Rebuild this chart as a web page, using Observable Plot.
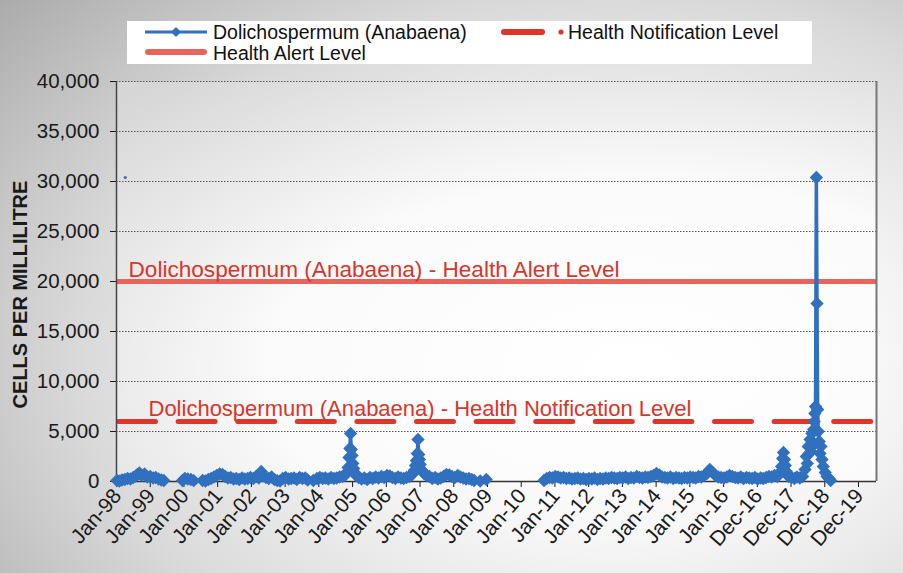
<!DOCTYPE html>
<html><head><meta charset="utf-8">
<script src="https://cdn.jsdelivr.net/npm/d3@7"></script>
<script src="https://cdn.jsdelivr.net/npm/@observablehq/plot@0.6"></script>
<style>
html,body{margin:0;padding:0;background:#fff;}
#wrap{position:relative;width:903px;height:573px;overflow:hidden;
 background: radial-gradient(ellipse 95% 100% at 68% 62%, #ffffff 0%, #f8f8f8 30%, #dadada 62%, #a3a3a3 100%);
 font-family:"Liberation Sans", Arial, sans-serif;}
#legend{position:absolute;left:127px;top:21px;width:685px;height:43px;background:#fff;}
#chart{position:absolute;left:0;top:0;}
</style></head><body>
<div id="wrap"><div id="chart"></div><div id="legend"></div></div>
<script>
// ---------- data ----------
const legendLabels = ["Dolichospermum (Anabaena)", "Health Notification Level", "Health Alert Level"];
const alertLevel = 20000;
const notificationLevel = 6000;
const alertLabel = "Dolichospermum (Anabaena) - Health Alert Level";
const notificationLabel = "Dolichospermum (Anabaena) - Health Notification Level";
const yLabel = "CELLS PER MILLILITRE";
const yTicks = [0, 5000, 10000, 15000, 20000, 25000, 30000, 35000, 40000];
const tickLabels = ["Jan-98","Jan-99","Jan-00","Jan-01","Jan-02","Jan-03","Jan-04","Jan-05","Jan-06","Jan-07","Jan-08","Jan-09","Jan-10","Jan-11","Jan-12","Jan-13","Jan-14","Jan-15","Jan-16","Dec-16","Dec-17","Dec-18","Dec-19"];
const axisStart = "1998-01-05";
const axisEnd = "2020-07-13";
const tickStepDays = 365;

const sampleDates = [
 "1998-01-10","1998-02-05","1998-03-05","1998-04-05","1998-05-05","1998-06-05","1998-07-05","1998-08-01","1998-08-20","1998-09-10","1998-10-05","1998-11-05","1998-12-05",
 "1999-01-05","1999-02-05","1999-03-05","1999-04-05","1999-05-05","1999-06-01","1999-08-01",
 "1999-12-20","2000-01-15","2000-02-15","2000-03-20","2000-04-20","2000-06-01",
 "2000-07-25","2000-08-25","2000-09-25","2000-10-25","2000-11-25","2000-12-25","2001-01-25","2001-02-25","2001-03-25","2001-04-25","2001-05-25","2001-06-25",
 "2001-07-25","2001-08-25","2001-09-25","2001-10-25","2001-11-25","2001-12-25","2002-01-25","2002-02-25","2002-03-25","2002-04-20","2002-05-10","2002-06-10",
 "2002-07-10","2002-08-10","2002-09-10","2002-10-10","2002-11-10","2002-12-10","2003-01-10","2003-02-10","2003-03-10","2003-04-10","2003-05-10","2003-06-10",
 "2003-07-10","2003-08-10","2003-09-05","2003-10-01",
 "2003-11-05","2003-12-15","2004-01-15","2004-02-15","2004-03-15","2004-04-15","2004-05-15","2004-06-15","2004-07-15","2004-08-15","2004-09-15","2004-10-10",
 "2004-11-01","2004-11-15","2004-11-25","2004-12-05","2004-12-12","2004-12-20","2004-12-28","2005-01-05","2005-01-15","2005-01-25","2005-02-10","2005-03-10",
 "2005-04-10","2005-05-10","2005-06-10","2005-07-10","2005-08-10","2005-09-10","2005-10-10","2005-11-10","2005-12-10","2006-01-10","2006-02-10","2006-03-10",
 "2006-04-10","2006-05-10","2006-06-10","2006-07-10","2006-08-10","2006-09-10","2006-10-10","2006-11-01","2006-11-15","2006-11-25","2006-12-05","2006-12-12",
 "2006-12-20","2006-12-28","2007-01-05","2007-01-15","2007-02-01","2007-02-15","2007-03-15","2007-04-15","2007-05-15","2007-06-15","2007-07-15","2007-08-15",
 "2007-09-15","2007-10-15","2007-11-15","2007-12-15","2008-01-15","2008-02-15","2008-03-15","2008-04-15","2008-05-15","2008-06-15","2008-07-15","2008-08-10",
 "2008-10-15","2008-12-20","2009-03-01",
 "2010-09-05","2010-10-05","2010-11-05","2010-12-05","2011-01-05","2011-02-05","2011-03-05","2011-04-05","2011-05-05","2011-06-05","2011-07-05","2011-08-05",
 "2011-09-05","2011-10-05","2011-11-05","2011-12-05","2012-01-05","2012-02-05","2012-03-05","2012-04-05","2012-05-05","2012-06-05","2012-07-05","2012-08-05",
 "2012-09-05","2012-10-05","2012-11-05","2012-12-05","2013-01-05","2013-02-05","2013-03-05","2013-04-05","2013-05-05","2013-06-05","2013-07-05","2013-08-05",
 "2013-09-05","2013-10-05","2013-11-05","2013-12-05","2014-01-05","2014-02-05","2014-03-05","2014-04-05","2014-05-05","2014-06-05","2014-07-05","2014-08-05",
 "2014-09-05","2014-10-05","2014-11-05","2014-12-05","2015-01-05","2015-02-05","2015-03-05","2015-04-05","2015-05-05","2015-06-05","2015-07-05","2015-08-05",
 "2015-09-05","2015-10-05","2015-11-05","2015-12-05","2016-01-05","2016-02-05","2016-03-05","2016-04-05","2016-05-05","2016-06-05","2016-07-05","2016-08-05",
 "2016-09-05","2016-10-05","2016-11-05","2016-12-05","2017-01-05","2017-02-05","2017-03-05","2017-04-05","2017-05-05","2017-06-05","2017-07-05","2017-08-05",
 "2017-09-01","2017-09-20","2017-10-01","2017-10-10","2017-10-20","2017-10-30","2017-11-10","2017-11-20","2017-12-05","2018-01-05","2018-02-05","2018-03-05",
 "2018-04-05","2018-05-05","2018-06-01","2018-06-15","2018-06-25","2018-07-05","2018-07-15","2018-07-25","2018-08-05","2018-08-15","2018-08-25","2018-09-01",
 "2018-09-08","2018-09-15","2018-09-22","2018-10-01","2018-10-08","2018-10-15","2018-10-22","2018-11-01","2018-11-10","2018-11-20","2018-12-01","2018-12-15",
 "2019-01-05","2019-01-25","2019-02-15","2019-03-05"
];
const cellCounts = [
 100,50,150,200,300,250,400,550,700,850,600,750,450,
 500,350,400,250,150,100,null,
 100,300,250,200,80,null,
 100,50,200,300,450,600,750,700,500,350,400,250,
 300,200,350,250,300,400,300,500,350,1000,600,400,
 300,450,200,80,50,300,400,250,300,350,200,400,
 300,350,150,null,
 100,300,400,300,350,250,400,300,350,450,500,600,
 900,1400,2400,3300,4800,3200,2600,1800,1300,900,600,400,
 250,350,200,400,300,450,350,500,400,600,550,400,
 300,450,350,300,400,500,700,1100,1600,2100,2800,4200,
 2700,2200,1700,1200,1000,800,600,500,300,400,250,350,
 500,700,650,500,400,600,450,350,250,300,200,100,
 50,200,null,
 100,300,400,350,500,450,350,400,300,350,250,300,
 350,250,300,200,300,250,350,200,300,250,350,300,
 400,350,300,400,350,450,300,400,350,500,400,350,
 450,400,500,600,800,650,450,400,350,450,300,400,
 350,300,400,350,450,400,350,500,450,600,800,1200,
 900,600,450,400,350,450,600,500,400,350,450,300,
 400,350,300,400,250,350,300,400,500,450,600,500,
 900,1500,2300,2900,2200,1600,1000,700,500,400,300,450,
 350,500,1200,2500,1800,3500,2800,4200,3000,4800,3600,5200,
 6000,6800,7500,30400,17800,7200,5000,4000,2800,3500,2200,1500,
 900,500,300,100
];
const strayMarkerDates = ["1998-04-10"];
const strayMarkerValues = [30400];

// ---------- build ----------
const blue = "#3070bf";
const alertColor = "#e8645c";
const notifColor = "#e0352b";
const series = sampleDates.map((d, i) => ({date: new Date(d), value: cellCounts[i]}));
const stray = strayMarkerDates.map((d, i) => ({date: new Date(d), value: strayMarkerValues[i]}));
const xDomain = [new Date(axisStart), new Date(axisEnd)];
const tickDates = tickLabels.map((_, i) => d3.utcDay.offset(xDomain[0], tickStepDays * i));

const chart = Plot.plot({
  width: 903, height: 573,
  marginLeft: 116, marginRight: 27, marginTop: 81, marginBottom: 92,
  style: {background: "transparent", fontFamily: "Liberation Sans, Arial, sans-serif", fontSize: "20.5px", color: "#1a1a1a", overflow: "visible"},
  x: {type: "utc", domain: xDomain},
  y: {domain: [0, 40000]},
  marks: [
    Plot.frame({fill: "url(#plotBg)", stroke: "none"}),
    Plot.gridY(yTicks.filter(v => v > 0), {stroke: "#555", strokeOpacity: 1, strokeWidth: 1, strokeDasharray: "1.5,1.5"}),
    Plot.ruleY([alertLevel], {stroke: alertColor, strokeWidth: 5}),
    Plot.ruleY([notificationLevel], {stroke: notifColor, strokeWidth: 5, strokeDasharray: "37,22.6", strokeLinecap: "round", strokeDashoffset: -2.5}),
    Plot.text([alertLabel], {text: d => d, y: [alertLevel], frameAnchor: "left", textAnchor: "start", lineAnchor: "bottom", dx: 12, dy: -5, fill: "#d8352b", fontSize: 22.6}),
    Plot.text([notificationLabel], {text: d => d, y: [notificationLevel], frameAnchor: "left", textAnchor: "start", lineAnchor: "bottom", dx: 32, dy: -6, fill: "#d8352b", fontSize: 22}),
    Plot.ruleX([xDomain[1]], {stroke: "#777", strokeWidth: 2}),
    Plot.axisY({ticks: yTicks, tickFormat: d3.format(","), tickSize: 6, tickPadding: 11, label: null}),
    Plot.axisX({ticks: tickDates, tickFormat: () => "", tickSize: 6, label: null}),
    Plot.text(tickDates, {x: d => d, text: (d, i) => tickLabels[i], frameAnchor: "bottom", rotate: -49, textAnchor: "end", dx: 6, dy: 15, fontSize: 21}),
    Plot.text([yLabel], {text: d => d, frameAnchor: "left", rotate: -90, textAnchor: "middle", dx: -96, dy: 13, fontWeight: "bold", fontSize: 20}),
    Plot.ruleY([0], {stroke: "#333", strokeWidth: 1.5}),
    Plot.ruleX([xDomain[0]], {stroke: "#444", strokeWidth: 1.5}),
    Plot.line(series, {x: "date", y: "value", stroke: blue, strokeWidth: 3.5}),
    Plot.dot(series, {x: "date", y: "value", symbol: "diamond2", r: 6, fill: blue, stroke: "none"}),
    Plot.dot(stray, {x: "date", y: "value", r: 1.6, fill: blue, stroke: "none"})
  ]
});

const defs = d3.select(chart).insert("defs", ":first-child");
const g = defs.append("radialGradient").attr("id", "plotBg").attr("cx", 0.68).attr("cy", 0.72).attr("r", 0.95);
g.append("stop").attr("offset", "0").attr("stop-color", "#ffffff");
g.append("stop").attr("offset", "0.5").attr("stop-color", "#fbfbfb");
g.append("stop").attr("offset", "1").attr("stop-color", "#d6d6d6");
document.getElementById("chart").appendChild(chart);

// ---------- legend ----------
const L = d3.select("#legend").append("svg").attr("width", 685).attr("height", 43)
  .style("font-family", "Liberation Sans, Arial, sans-serif").style("font-size", "19.5px");
L.append("line").attr("x1", 18).attr("x2", 80).attr("y1", 11).attr("y2", 11).attr("stroke", blue).attr("stroke-width", 3);
L.append("path").attr("d", d3.symbol(d3.symbolDiamond2, 64)()).attr("transform", "translate(49,11)").attr("fill", blue);
L.append("text").attr("x", 86).attr("y", 17.5).attr("fill", "#111").text(legendLabels[0]);
L.append("line").attr("x1", 377).attr("x2", 415).attr("y1", 11).attr("y2", 11).attr("stroke", notifColor).attr("stroke-width", 6).attr("stroke-linecap", "round");
L.append("circle").attr("cx", 434).attr("cy", 11).attr("r", 2.6).attr("fill", notifColor);
L.append("text").attr("x", 441).attr("y", 17.5).attr("fill", "#111").text(legendLabels[1]);
L.append("line").attr("x1", 21).attr("x2", 77).attr("y1", 31).attr("y2", 31).attr("stroke", alertColor).attr("stroke-width", 6).attr("stroke-linecap", "round");
L.append("text").attr("x", 86).attr("y", 38.5).attr("fill", "#111").text(legendLabels[2]);
</script>
</body></html>
